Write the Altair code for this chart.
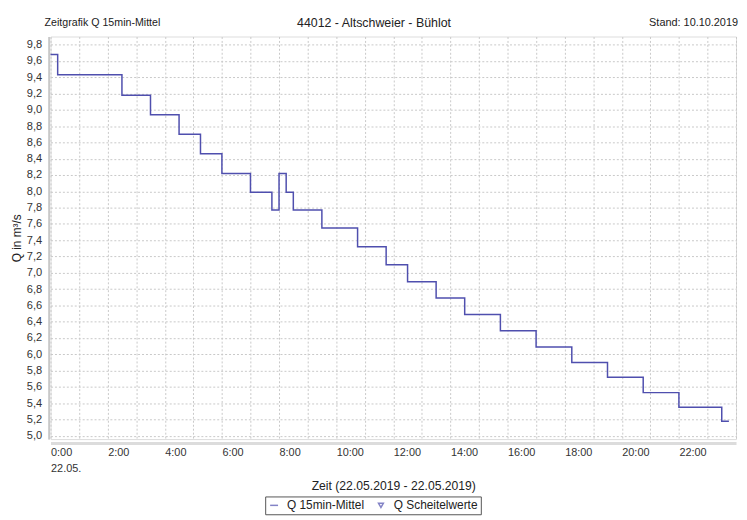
import altair as alt
import pandas as pd

# ---- data ----
day = "2019-05-22"
step_times = ["00:00", "00:15", "02:30", "03:30", "04:30", "05:15", "06:00", "07:00",
              "07:45", "08:00", "08:15", "08:30", "09:30", "10:45", "11:45", "12:30",
              "13:30", "14:30", "15:45", "17:00", "18:15", "19:30", "20:45", "22:00",
              "23:30", "23:45"]
q_values = [9.68, 9.43, 9.18, 8.94, 8.70, 8.46, 8.22, 7.99,
            7.77, 8.22, 7.99, 7.77, 7.55, 7.32, 7.10, 6.89,
            6.69, 6.49, 6.29, 6.09, 5.90, 5.72, 5.53, 5.35,
            5.18, 5.18]
y_ticks = [5.0, 5.2, 5.4, 5.6, 5.8, 6.0, 6.2, 6.4, 6.6, 6.8, 7.0, 7.2, 7.4,
           7.6, 7.8, 8.0, 8.2, 8.4, 8.6, 8.8, 9.0, 9.2, 9.4, 9.6, 9.8]
hour_ticks = list(range(25))
series_names = ["Q 15min-Mittel", "Q Scheitelwerte"]
date_label = "22.05."

title_left = "Zeitgrafik Q 15min-Mittel"
title_center = "44012 - Altschweier - Bühlot"
title_right = "Stand: 10.10.2019"
x_title = "Zeit (22.05.2019 - 22.05.2019)"
y_title = "Q in m³/s"

FONT = "Liberation Sans"
LINE = "#4f4fae"
GRID = "#c8c8c8"
TXT = "#333333"

W, H = 693, 407

df = pd.DataFrame({
    "time": [f"{day}T{t}:00" for t in step_times],
    "q": q_values,
    "series": series_names[0],
})

start = alt.DateTime(year=2019, month=5, date=22, hours=0)
end = alt.DateTime(year=2019, month=5, date=23, hours=0)
hour_dts = [alt.DateTime(year=2019, month=5, date=22 + h // 24, hours=h % 24) for h in hour_ticks]

x_label_expr = (
    "hours(datum.value) % 2 == 0 && date(datum.value) == 22 ? "
    f"(hours(datum.value) == 0 ? [timeFormat(datum.value, '%-H:%M'), '{date_label}'] "
    ": timeFormat(datum.value, '%-H:%M')) : ''"
)

xaxis = alt.Axis(
    values=hour_dts, tickCount=len(hour_dts) + 5, labelExpr=x_label_expr,
    labelAlign="left", labelBaseline="top",
    labelFlush=False, labelOverlap=False, ticks=False,
    domainColor="#dcdcdc", domainWidth=3, offset=4, labelPadding=4,
    labelFont=FONT, labelFontSize=11, labelColor=TXT, labelLineHeight=16,
    title=x_title, titleFont=FONT, titleFontSize=12.3, titleFontWeight="normal",
    titleColor="#222", titleX=W / 2, titleY=47, titleAlign="center",
    titleBaseline="alphabetic",
    grid=True, gridColor=GRID, gridDash=[2, 2], gridWidth=1,
)

yaxis = alt.Axis(
    values=y_ticks, tickCount=len(y_ticks) + 5,
    labelExpr="replace(format(datum.value, '.1f'), '.', ',')",
    ticks=False, domainColor="#999999", offset=2, labelPadding=7,
    labelFlush=False, labelOverlap=False,
    labelFont=FONT, labelFontSize=11.2, labelColor=TXT,
    title=y_title, titleFont=FONT, titleFontSize=12, titleFontWeight="normal",
    titleColor="#222", titleX=-32, titleY=203.5, titleAngle=270,
    titleAlign="center", titleBaseline="middle",
    grid=True, gridColor=GRID, gridDash=[2, 2], gridWidth=1,
)

xenc = alt.X("time:T", scale=alt.Scale(domain=[start, end]), axis=xaxis)
yenc = alt.Y("q:Q", scale=alt.Scale(domain=[4.96, 9.9], nice=False, zero=False), axis=yaxis)

line = alt.Chart(df).mark_line(
    interpolate="step-after", color=LINE, strokeWidth=1.5
).encode(x=xenc, y=yenc)

leg = alt.Legend(
    orient="none", legendX=217, legendY=465, direction="horizontal", title=None,
    padding=3, strokeColor="#555555", fillColor="white", cornerRadius=0,
    labelFont=FONT, labelFontSize=12, labelColor="#222", symbolStrokeWidth=1.5,
    labelOffset=7, columnPadding=10,
)

legend_layer = alt.Chart(df).mark_point(filled=False, strokeWidth=1.5).encode(
    x=xenc, y=yenc,
    color=alt.Color("series:N", scale=alt.Scale(domain=series_names, range=[LINE, LINE]), legend=leg),
    shape=alt.Shape("series:N", scale=alt.Scale(domain=series_names, range=["stroke", "triangle-down"]), legend=leg),
    size=alt.Size("series:N", scale=alt.Scale(domain=series_names, range=[64, 24]), legend=leg),
).transform_filter("false")


def header(text, x, align, size):
    return alt.Chart(pd.DataFrame({"t": [text]})).mark_text(
        align=align, baseline="middle", font=FONT, fontSize=size, color="#222"
    ).encode(x=alt.value(x), y=alt.value(-14), text="t:N")


chart = alt.layer(
    line, legend_layer,
    header(title_left, -6, "left", 10.75),
    header(title_center, 327, "center", 12.5),
    header(title_right, 695, "right", 11),
).properties(
    width=W, height=H,
    padding={"left": 43, "top": 26, "right": 3, "bottom": 79},
    autosize=alt.AutoSizeParams(type="none"),
).configure_view(stroke="#999999", strokeWidth=1).configure(background="white")

chart.save("out.html", embed_options={"renderer": "svg", "actions": False})
